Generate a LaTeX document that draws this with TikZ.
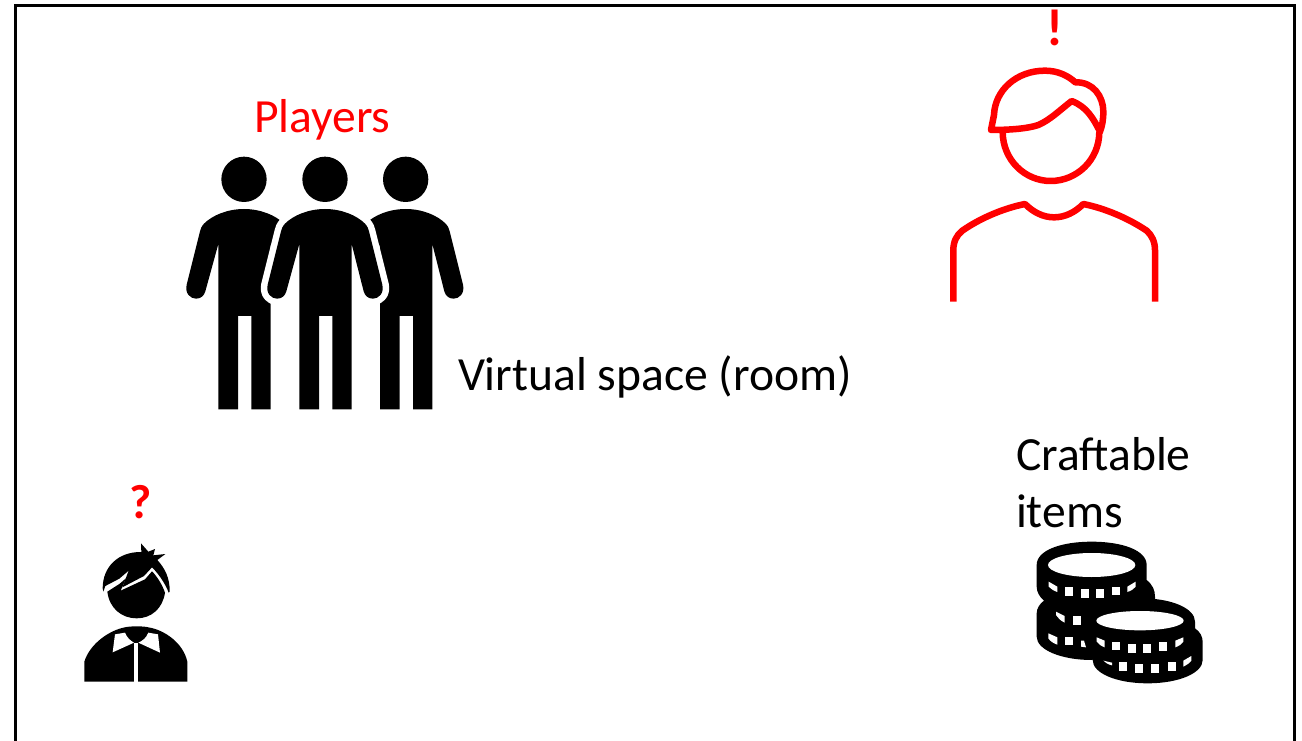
\documentclass[tikz,border=0pt]{standalone}
\usepackage{fontspec}
\setmainfont{Carlito}
\definecolor{redmark}{RGB}{255,0,0}
\tikzset{
  label text/.style={inner sep=0pt,outer sep=0pt,font=\fontsize{47.6}{57}\selectfont,text=black},
  player body/.pic={
    \path[pic actions] (0,-89) .. controls (-50,-89) and (-95,-70) .. (-120,-45)
      .. controls (-128,-36) and (-130,-30) .. (-132,-22)
      -- (-172,138) .. controls (-178,165) and (-160,180) .. (-144,180)
      .. controls (-130,180) and (-120,172) .. (-116,158)
      -- (-77,16) -- (-77,512) -- (-18,512) -- (-18,232) -- (22,232) -- (22,512) -- (80,512) -- (80,16)
      -- (116,158) .. controls (120,172) and (130,180) .. (144,180)
      .. controls (160,180) and (178,165) .. (172,138)
      -- (132,-22) .. controls (130,-30) and (128,-36) .. (120,-45)
      .. controls (95,-70) and (50,-89) .. (0,-89) -- cycle;
  },
  redline/.style={draw=redmark,line width=6.5pt,line join=round}
}
\begin{document}
\begin{tikzpicture}[x=1pt,y=-1pt]
\useasboundingbox (0,0) rectangle (1302,741);
\fill[white] (0,0) rectangle (1302,741);
\draw[line width=3pt,black] (15,741) -- (15,6) -- (1294,6) -- (1294,741);

% three players
\begin{scope}[shift={(170pt,-140pt)},x=0.33333pt,y=-0.33333pt]
  \fill (222,118) circle[radius=68];
  \fill (465,118) circle[radius=68];
  \fill (707,118) circle[radius=68];
  \pic[fill=black] at (222,296) {player body};
  \pic[fill=black] at (707,296) {player body};
  \fill[white] (302,330) rectangle (400,510);
  \fill[white] (530,330) rectangle (629,510);
  \pic[fill=black,draw=white,line width=13pt,line join=round] at (465,296) {player body};
  \pic[fill=black] at (465,296) {player body};
\end{scope}

% red person
\begin{scope}[shift={(930pt,0pt)},x=0.33333pt,y=-0.33333pt]
  \draw[redline] (218,395) .. controls (218,480) and (285,543) .. (362,543)
     .. controls (440,543) and (508,480) .. (508,395);
  \draw[redline] (183,390) -- (192,345) .. controls (195,270) and (260,212) .. (345,212)
     .. controls (385,212) and (415,228) .. (436,247)
     .. controls (490,245) and (520,290) .. (520,335)
     .. controls (520,360) and (516,380) .. (510,395)
     .. controls (490,355) and (470,320) .. (425,303)
     .. controls (390,330) and (360,360) .. (325,375)
     .. controls (290,387) and (230,390) .. (183,390) -- cycle;
  \draw[redline,line cap=butt] (70,905) -- (70,750) .. controls (70,725) and (80,705) .. (97,692)
     .. controls (150,655) and (220,625) .. (285,612)
     .. controls (310,637) and (340,652) .. (372,652)
     .. controls (405,652) and (435,637) .. (460,612)
     .. controls (525,625) and (595,655) .. (650,692)
     .. controls (665,705) and (675,725) .. (675,750) -- (675,905);
\end{scope}

% boy
\begin{scope}[shift={(70pt,-480pt)},x=0.33333pt,y=-0.33333pt]
  \fill (98,325) .. controls (98,260) and (145,215) .. (214,216) -- (213,190) -- (235,215)
    -- (255,207) -- (250,226) -- (286,222) -- (262,240) .. controls (285,265) and (300,295) .. (299,335)
    -- (296,338) .. controls (290,320) and (270,285) .. (246,262)
    -- (222,288) -- (157,322) -- (176,272) -- (148,296) -- (106,318) -- (100,335) -- cycle;
  \fill (112,335) -- (148,312) -- (168,295) -- (152,332) -- (225,298) -- (246,274)
    .. controls (262,290) and (277,315) .. (285,338)
    .. controls (278,385) and (245,415) .. (200,415)
    .. controls (155,415) and (118,385) .. (112,335) -- cycle;
  \fill (43,605) -- (43,545) .. controls (60,490) and (120,450) .. (165,442)
    .. controls (180,438) and (220,438) .. (235,442)
    .. controls (285,450) and (340,490) .. (352,545) -- (352,605) -- cycle;
  \fill[white] (192,490) -- (204,490) -- (204,607) -- (192,607) -- cycle;
  \fill[white] (135,463) -- (165,458) .. controls (172,475) and (182,482) .. (192,488) -- (128,517) -- cycle;
  \fill[white] (235,458) -- (264,463) -- (270,518) -- (205,488) .. controls (218,482) and (228,475) .. (235,458) -- cycle;
\end{scope}

% coins
\begin{scope}[shift={(1020pt,-530pt)},x=0.33333pt,y=-0.33333pt]
  % stack at the back
  \fill (50,105) .. controls (50,60) and (125,35) .. (215,35) .. controls (305,35) and (380,60) .. (380,105)
     -- (380,150) .. controls (398,165) and (405,180) .. (405,200) -- (405,260) -- (300,370)
     -- (215,390) .. controls (125,390) and (50,360) .. (50,320) -- (50,250) .. controls (50,235) and (60,220) .. (72,212)
     .. controls (58,200) and (50,185) .. (50,170) -- cycle;
  % front coins
  \fill (200,275) .. controls (200,235) and (280,205) .. (365,205) .. controls (455,205) and (525,235) .. (525,275)
     -- (525,295) .. controls (540,305) and (548,320) .. (548,335) -- (548,390)
     .. controls (548,430) and (475,460) .. (383,460) .. controls (290,460) and (218,430) .. (218,390)
     -- (218,370) -- (200,330) -- cycle;
  % top faces
  \fill[white] (215,105) ellipse[x radius=131,y radius=36];
  \fill[white] (360,272) ellipse[x radius=131,y radius=29];
  % side marks
  \foreach \px/\py in {147/185,194/190,240/190,288/183,
                       170/272,147/333,
                       288/348,335/355,382/355,430/350,
                       310/410,358/415,405/415,455/410}
    \fill[white] (\px-12,\py-13) rectangle (\px+12,\py+13);
  \fill[white] (86,155) -- (112,170) -- (112,186) .. controls (100,182) and (92,176) .. (86,170) -- cycle;
  \fill[white] (347,155) -- (322,170) -- (322,186) .. controls (335,182) and (342,176) .. (347,170) -- cycle;
  \fill[white] (108,245) -- (134,258) -- (134,278) .. controls (122,272) and (114,265) .. (108,255) -- cycle;
  \fill[white] (85,310) -- (112,322) -- (112,344) .. controls (100,340) and (90,333) .. (85,325) -- cycle;
  \fill[white] (183,332) -- (192,332) -- (198,352) -- (183,350) -- cycle;
  \fill[white] (230,322) -- (254,332) -- (254,352) .. controls (243,348) and (235,342) .. (230,335) -- cycle;
  \fill[white] (490,322) -- (466,332) -- (466,352) .. controls (477,348) and (486,342) .. (490,335) -- cycle;
  \fill[white] (250,392) -- (276,398) -- (276,406) .. controls (265,404) and (256,398) .. (250,392) -- cycle;
  \fill[white] (514,378) -- (490,392) -- (490,410) .. controls (502,404) and (510,398) .. (514,392) -- cycle;
\end{scope}

% texts
\node[label text,text=redmark,anchor=base west] (players) at (254,133) {Players};
\node[label text,anchor=base west] (space) at (458,390) {Virtual space (room)};
\node[label text,anchor=base west] (craft) at (1016,470) {Craftable};
\node[label text,anchor=base west] (items) at (1016,527) {items};
\node[label text,text=redmark,anchor=base,font=\fontsize{52}{54}\selectfont\bfseries] (excl) at (1055,46) {!};
\node[label text,text=redmark,anchor=base,font=\fontsize{48}{50}\selectfont\bfseries] (quest) at (141,518) {?};
\end{tikzpicture}
\end{document}
